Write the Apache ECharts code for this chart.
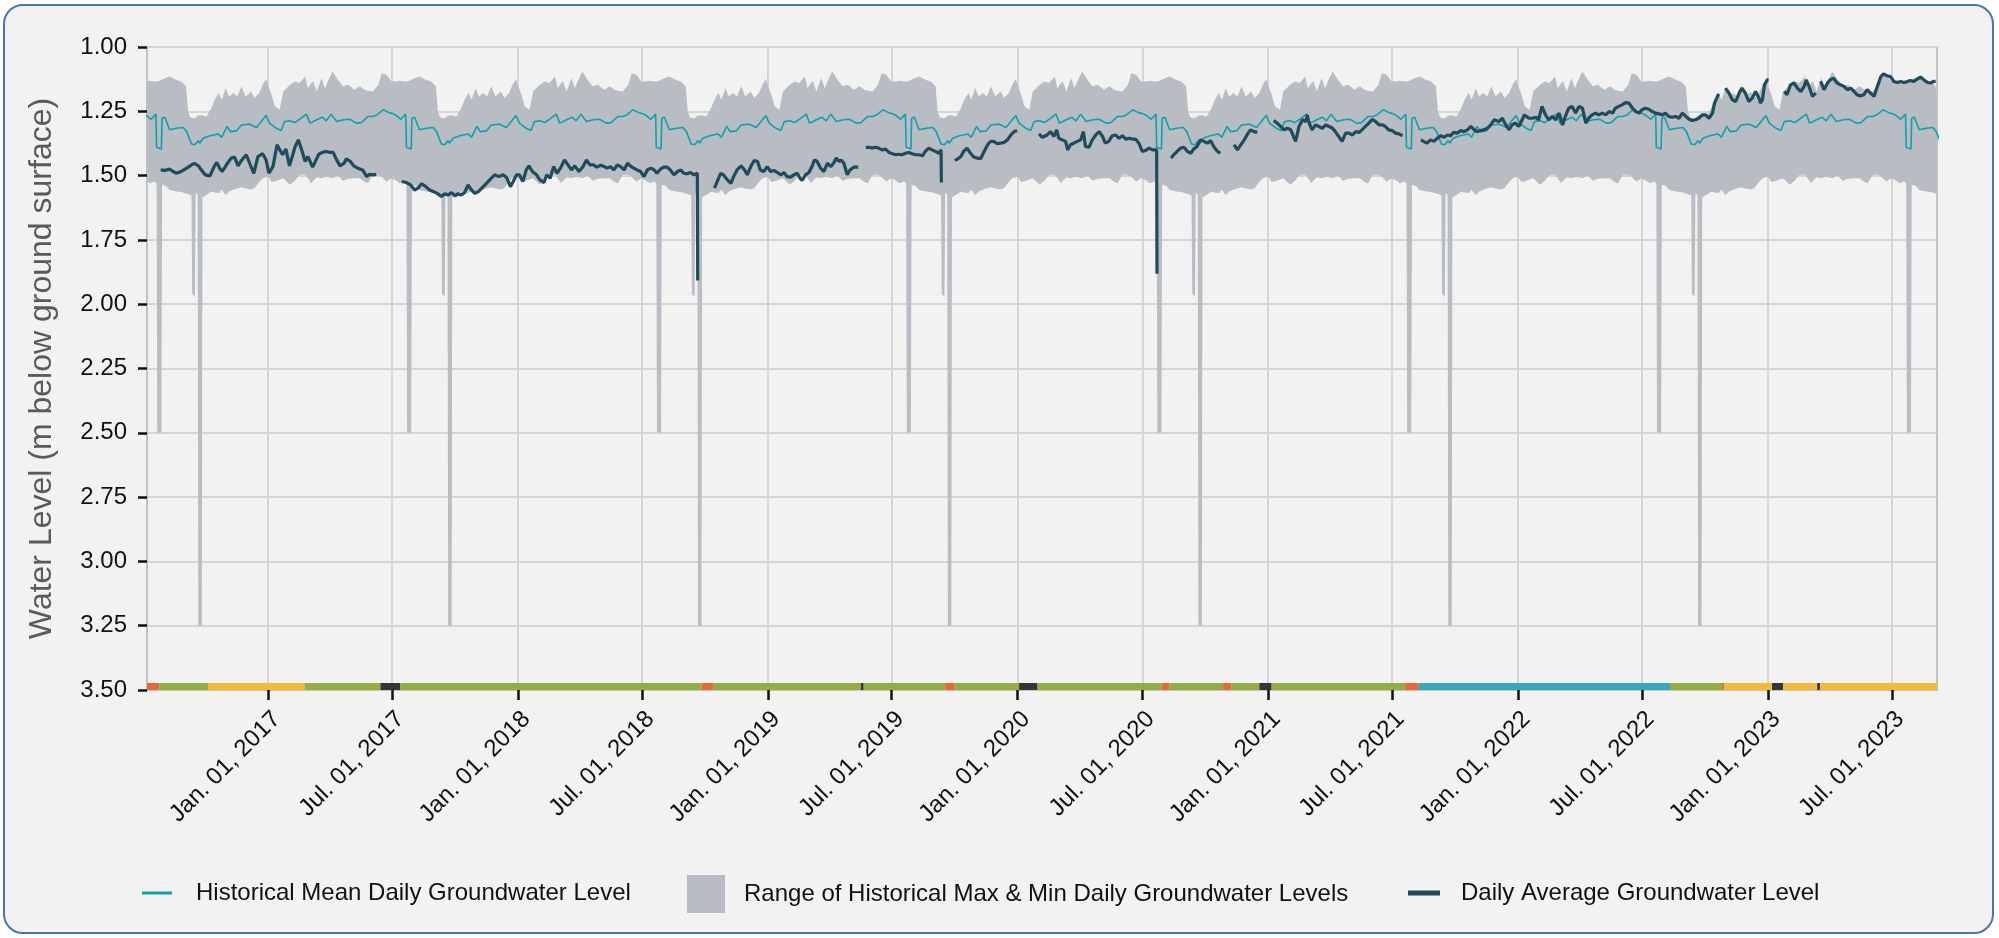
<!DOCTYPE html>
<html>
<head>
<meta charset="utf-8">
<script src="https://cdn.jsdelivr.net/npm/echarts@6/dist/echarts.min.js"></script>
<style>
html,body{margin:0;padding:0;background:#ffffff;width:1999px;height:938px;overflow:hidden;}
#frame{position:absolute;left:3px;top:4px;width:1987px;height:926px;border:2px solid #4a76a8;border-radius:20px;background:#f2f2f2;}
#c{position:absolute;left:0;top:0;width:1999px;height:938px;}
</style>
</head>
<body>
<div id="frame"></div>
<div id="c"></div>
<script>
// ---- DATA ----
// Historical (day-of-year climatology) — t = days since Jul 1 of each year
const histMean = [[0,1.258],[5,1.264],[13,1.281],[20,1.261],[21,1.390],[28,1.397],[29,1.277],[33,1.273],[40,1.322],[50,1.316],[60,1.313],[65,1.329],[72,1.377],[77,1.380],[82,1.364],[84,1.374],[89,1.355],[99,1.345],[111,1.338],[116,1.351],[124,1.309],[129,1.329],[138,1.326],[145,1.303],[157,1.300],[167,1.313],[181,1.266],[186,1.296],[196,1.316],[203,1.325],[208,1.290],[216,1.287],[223,1.294],[230,1.281],[240,1.261],[245,1.296],[255,1.283],[263,1.273],[269,1.287],[276,1.261],[284,1.290],[294,1.283],[303,1.281],[313,1.296],[320,1.294],[330,1.270],[337,1.270],[343,1.264],[352,1.244],[362,1.257]];

// [t, historical max level (top), historical min level (bottom)]
const histRange = [[0,1.134,1.512],[5,1.134,1.517],[11,1.131,1.530],[18,1.134,1.523],[21,1.134,1.530],[22,1.134,2.50],[28,1.128,2.50],[29,1.126,1.536],[35,1.120,1.540],[40,1.115,1.556],[50,1.128,1.562],[57,1.134,1.564],[64,1.153,1.570],[67,1.250,1.572],[70,1.273,1.575],[72,1.275,1.575],[73,1.276,1.960],[77,1.277,1.970],[78,1.276,1.570],[79,1.272,1.569],[81,1.268,1.575],[82,1.266,3.25],[87,1.265,3.25],[88,1.266,1.584],[94,1.270,1.575],[101,1.238,1.562],[106,1.205,1.566],[112,1.179,1.568],[116,1.205,1.555],[122,1.160,1.575],[127,1.192,1.562],[133,1.179,1.555],[139,1.192,1.549],[145,1.153,1.545],[151,1.192,1.550],[159,1.173,1.554],[164,1.198,1.549],[171,1.179,1.525],[176,1.147,1.510],[181,1.124,1.506],[184,1.150,1.504],[189,1.186,1.525],[194,1.231,1.522],[199,1.240,1.517],[201,1.244,1.515],[206,1.173,1.510],[216,1.147,1.536],[223,1.134,1.520],[230,1.140,1.497],[238,1.115,1.497],[242,1.160,1.510],[247,1.140,1.530],[250,1.134,1.520],[255,1.173,1.506],[262,1.121,1.510],[267,1.160,1.505],[272,1.128,1.506],[278,1.095,1.510],[286,1.128,1.500],[293,1.153,1.520],[301,1.147,1.512],[310,1.166,1.510],[318,1.153,1.510],[325,1.166,1.525],[330,1.170,1.530],[337,1.173,1.497],[345,1.147,1.497],[350,1.102,1.505],[357,1.108,1.523],[364,1.134,1.510]];

// Daily average groundwater level — [days since 2016-07-01, level]; null = no data
const dailyAvg = [
[27,1.478],[33,1.480],[40,1.475],[45,1.484],[50,1.491],[57,1.484],[65,1.471],[70,1.462],[76,1.452],[82,1.462],[87,1.480],[92,1.497],[99,1.501],[105,1.465],[109,1.449],[113,1.471],[117,1.484],[123,1.458],[130,1.432],[135,1.428],[140,1.462],[145,1.441],[152,1.419],[157,1.452],[163,1.491],[169,1.426],[176,1.415],[181,1.439],[185,1.491],[191,1.465],[197,1.380],[201,1.400],[205,1.419],[210,1.397],[215,1.462],[220,1.419],[223,1.390],[228,1.361],[233,1.400],[238,1.445],[242,1.426],[249,1.467],[254,1.439],[258,1.417],[263,1.410],[269,1.406],[274,1.410],[279,1.410],[284,1.439],[289,1.462],[295,1.452],[298,1.435],[304,1.445],[309,1.462],[315,1.471],[322,1.478],[328,1.504],[332,1.495],[337,1.497],[342,1.495],
[360,null],
[379,1.523],[386,1.527],[392,1.536],[398,1.556],[403,1.549],[408,1.532],[413,1.540],[420,1.556],[425,1.562],[431,1.569],[437,1.581],[442,1.571],[447,1.575],[452,1.566],[457,1.579],[461,1.571],[466,1.575],[471,1.566],[476,1.536],[481,1.556],[486,1.569],[491,1.562],[496,1.549],[503,1.530],[510,1.510],[515,1.497],[521,1.504],[527,1.497],[532,1.506],[538,1.543],[542,1.523],[547,1.497],[551,1.497],[556,1.523],[561,1.478],[565,1.462],[570,1.484],[576,1.497],[581,1.517],[587,1.527],[591,1.497],[596,1.510],[601,1.465],[606,1.491],[611,1.471],[617,1.439],[622,1.458],[627,1.478],[632,1.462],[638,1.484],[644,1.465],[649,1.439],[654,1.458],[659,1.458],[664,1.467],[670,1.460],[675,1.465],[679,1.471],[684,1.465],[689,1.478],[694,1.458],[699,1.465],[704,1.478],[709,1.452],[713,1.462],[718,1.471],[723,1.478],[728,1.484],[733,1.504],[738,1.478],[743,1.471],[748,1.478],[752,1.491],[757,1.475],[762,1.467],[767,1.467],[772,1.480],[777,1.497],[782,1.484],[787,1.478],[791,1.491],[796,1.493],[801,1.488],[806,1.497],[811,1.491],[811.5,1.908],
[820,null],
[836,1.549],[840,1.523],[845,1.491],[849,1.497],[855,1.517],[860,1.530],[864,1.504],[869,1.478],[875,1.462],[880,1.478],[884,1.497],[889,1.465],[894,1.441],[899,1.445],[903,1.478],[908,1.484],[913,1.465],[918,1.484],[923,1.480],[928,1.488],[933,1.497],[938,1.488],[942,1.504],[947,1.506],[952,1.497],[957,1.491],[961,1.510],[964,1.519],[969,1.497],[974,1.488],[979,1.462],[982,1.439],[986,1.445],[991,1.471],[996,1.484],[1001,1.452],[1006,1.465],[1010,1.452],[1014,1.432],[1018,1.445],[1021,1.439],[1025,1.452],[1030,1.497],[1034,1.478],[1040,1.467],[1046,1.467],
[1050,null],
[1057,1.390],[1062,1.390],[1067,1.393],[1071,1.390],[1076,1.393],[1081,1.400],[1086,1.397],[1091,1.410],[1096,1.415],[1101,1.419],[1105,1.417],[1110,1.419],[1115,1.413],[1120,1.410],[1125,1.415],[1130,1.419],[1135,1.419],[1140,1.423],[1144,1.406],[1149,1.393],[1154,1.400],[1159,1.406],[1164,1.413],[1167,1.400],[1167.5,1.527],
[1177,null],
[1187,1.441],[1191,1.436],[1196,1.426],[1200,1.406],[1205,1.393],[1210,1.413],[1215,1.428],[1220,1.432],[1225,1.434],[1230,1.406],[1235,1.380],[1239,1.367],[1244,1.367],[1249,1.376],[1254,1.374],[1259,1.371],[1264,1.361],[1269,1.342],[1274,1.329],[1278,1.325],
[1290,null],
[1310,1.338],[1315,1.351],[1317,1.355],[1322,1.342],[1327,1.329],[1332,1.348],[1336,1.322],[1339,1.355],[1344,1.361],[1349,1.367],[1352,1.400],[1356,1.380],[1361,1.374],[1366,1.367],[1371,1.361],[1375,1.329],[1378,1.387],[1383,1.390],[1388,1.361],[1393,1.342],[1398,1.329],[1403,1.348],[1407,1.374],[1412,1.367],[1417,1.345],[1422,1.342],[1427,1.355],[1432,1.345],[1437,1.358],[1442,1.355],[1446,1.358],[1451,1.358],[1456,1.374],[1461,1.406],[1466,1.402],[1471,1.393],[1476,1.400],[1482,1.400],[1482.5,1.882],
[1490,null],
[1503,1.432],[1507,1.419],[1512,1.406],[1517,1.393],[1522,1.390],[1527,1.406],[1532,1.413],[1536,1.397],[1541,1.387],[1546,1.361],[1551,1.367],[1556,1.374],[1561,1.364],[1566,1.390],[1571,1.406],[1575,1.413],
[1585,null],
[1595,1.380],[1600,1.400],[1605,1.380],[1610,1.361],[1614,1.342],[1619,1.322],[1624,1.329],[1629,1.332],
[1640,null],
[1653,1.286],[1658,1.296],[1663,1.309],[1668,1.322],[1673,1.316],[1678,1.322],[1683,1.355],[1685,1.367],[1690,1.309],[1695,1.283],[1700,1.290],[1702,1.264],[1704,1.290],[1709,1.322],[1714,1.303],[1719,1.309],[1724,1.316],[1729,1.303],[1734,1.309],[1739,1.316],[1743,1.329],[1748,1.348],[1753,1.367],[1758,1.335],[1763,1.335],[1768,1.342],[1773,1.329],[1778,1.332],[1782,1.322],[1787,1.309],[1792,1.296],[1797,1.281],[1802,1.290],[1807,1.303],[1812,1.303],[1816,1.309],[1821,1.322],[1826,1.325],[1831,1.335],[1836,1.338],[1841,1.345],
[1855,null],
[1868,1.361],[1872,1.367],[1877,1.374],[1882,1.361],[1887,1.367],[1892,1.355],[1897,1.345],[1902,1.351],[1907,1.342],[1911,1.345],[1916,1.332],[1921,1.335],[1926,1.325],[1931,1.329],[1936,1.322],[1941,1.309],[1946,1.322],[1950,1.329],[1955,1.325],[1960,1.322],[1965,1.316],[1970,1.303],[1975,1.283],[1982,1.290],[1987,1.277],[1992,1.303],[1997,1.322],[2001,1.303],[2006,1.296],[2011,1.309],[2016,1.283],[2019,1.264],[2022,1.270],[2026,1.277],[2031,1.277],[2036,1.273],[2040,1.283],[2045,1.231],[2050,1.264],[2055,1.283],[2060,1.270],[2065,1.283],[2070,1.257],[2075,1.303],[2079,1.270],[2084,1.238],[2089,1.231],[2094,1.257],[2099,1.231],[2104,1.238],[2109,1.296],[2113,1.277],[2118,1.264],[2123,1.257],[2128,1.264],[2133,1.257],[2138,1.264],[2143,1.251],[2148,1.257],[2152,1.238],[2157,1.231],[2162,1.225],[2167,1.216],[2172,1.218],[2177,1.238],[2182,1.251],[2187,1.257],[2191,1.244],[2196,1.238],[2201,1.242],[2206,1.251],[2211,1.257],[2216,1.260],[2221,1.264],[2225,1.257],[2230,1.270],[2235,1.273],[2240,1.270],[2245,1.277],[2250,1.257],[2255,1.270],[2260,1.281],[2264,1.286],[2269,1.283],[2274,1.277],[2279,1.264],[2284,1.264],[2289,1.277],[2294,1.257],[2297,1.218],[2303,1.182],
[2308,null],
[2313,1.160],[2318,1.179],[2323,1.205],[2328,1.212],[2333,1.179],[2337,1.160],[2342,1.179],[2347,1.212],[2352,1.199],[2357,1.173],[2362,1.199],[2364,1.218],[2367,1.205],[2370,1.147],[2374,1.128],[2376,1.128],
[2390,null],
[2399,1.173],[2403,1.186],[2408,1.147],[2413,1.140],[2418,1.160],[2423,1.173],[2428,1.153],[2431,1.128],[2436,1.160],[2440,1.192],[2445,1.179],
[2448,null],
[2452,1.134],[2457,1.166],[2462,1.140],[2466,1.128],[2471,1.121],[2476,1.140],[2481,1.147],[2486,1.153],[2491,1.166],[2496,1.160],[2501,1.173],[2505,1.186],[2510,1.190],[2515,1.186],[2520,1.166],[2525,1.179],[2530,1.192],[2535,1.153],[2540,1.115],[2544,1.104],[2549,1.112],[2554,1.115],[2559,1.134],[2564,1.138],[2569,1.134],[2574,1.138],[2579,1.134],[2583,1.130],[2588,1.134],[2593,1.125],[2598,1.117],[2603,1.128],[2608,1.138],[2613,1.140],[2617,1.134],[2620,1.134]
];

// Data-grade strip along the bottom
const gradeStart = ['2016-07-08','2016-07-26','2016-10-06','2017-02-23','2017-06-14','2017-07-13','2018-09-26','2018-10-13','2019-05-17','2019-05-21','2019-09-17','2019-09-30','2020-01-03','2020-01-30','2020-07-29','2020-08-10','2020-10-27','2020-11-08','2020-12-19','2021-01-06','2021-07-20','2021-08-09','2022-08-11','2022-10-26','2022-10-29','2023-01-07','2023-01-23','2023-03-14','2023-03-18'];
const gradeCode  = ['O','G','Y','G','D','G','O','G','D','G','O','G','D','G','O','G','O','G','D','G','O','T','G','O','Y','D','Y','D','Y'];
const gradeEnd = '2023-09-05';
const gradeColors = {O:'#e6693c', G:'#93ae3e', Y:'#f3b93a', D:'#353535', T:'#36a8ba'};

const xTickDates = ['2017-01-01','2017-07-01','2018-01-01','2018-07-01','2019-01-01','2019-07-01','2020-01-01','2020-07-01','2021-01-01','2021-07-01','2022-01-01','2022-07-01','2023-01-01','2023-07-01'];
const xTickLabels = ['Jan. 01, 2017','Jul. 01, 2017','Jan. 01, 2018','Jul. 01, 2018','Jan. 01, 2019','Jul. 01, 2019','Jan. 01, 2020','Jul. 01, 2020','Jan. 01, 2021','Jul. 01, 2021','Jan. 01, 2022','Jul. 01, 2022','Jan. 01, 2023','Jul. 01, 2023'];

const NAME_MEAN = 'Historical Mean Daily Groundwater Level';
const NAME_RANGE = 'Range of Historical Max & Min Daily Groundwater Levels';
const NAME_AVG = 'Daily Average Groundwater Level';

// ---- BUILD ----
const DAY = 86400000;
const ts = s => { const p = s.split('-').map(Number); return Date.UTC(p[0], p[1]-1, p[2]); };
const BASE = Date.UTC(2016, 6, 1);
const X_MIN = ts('2016-07-08'), X_MAX = ts('2023-09-05');
const tickTs = xTickDates.map(ts);

const meanData = [], bandTop = [], bandBottom = [];
for (let y = 2016; y <= 2023; y++) {
  const y0 = Date.UTC(y, 6, 1);
  histMean.forEach(p => meanData.push([y0 + p[0]*DAY, p[1]]));
  histRange.forEach(p => {
    bandTop.push([y0 + p[0]*DAY, p[1]]);
    bandBottom.push([y0 + p[0]*DAY, p[2]]);
  });
}
const avgData = dailyAvg.map(p => [BASE + p[0]*DAY, p[1] === null ? '-' : p[1]]);
const gradeData = gradeStart.map((s, i) => ({
  value: [ts(s), i + 1 < gradeStart.length ? ts(gradeStart[i+1]) : ts(gradeEnd)],
  code: gradeCode[i]
}));

const BAND = '#b8bcc3';
const FONT = 'Liberation Sans, Arial, Helvetica, sans-serif';
const chart = echarts.init(document.getElementById('c'), null, {renderer: 'canvas'});
chart.setOption({
  animation: false,
  backgroundColor: 'transparent',
  textStyle: {fontFamily: FONT},
  grid: {left: 147, top: 47, width: 1790, height: 643, show: true, borderColor: '#c4c4c4', borderWidth: 2, backgroundColor: 'transparent'},
  xAxis: {
    type: 'value', min: X_MIN, max: X_MAX, scale: true,
    axisLine: {show: true, onZero: false, lineStyle: {color: '#c4c4c4', width: 2}},
    axisTick: {show: true, customValues: tickTs, length: 10, lineStyle: {color: '#111', width: 2.5}},
    axisLabel: {customValues: tickTs, rotate: 45, fontSize: 24, color: '#111', margin: 17, fontFamily: FONT,
      verticalAlign: 'top', showMinLabel: true, showMaxLabel: true, hideOverlap: false,
      formatter: v => { const i = tickTs.indexOf(v); return i >= 0 ? xTickLabels[i] : ''; }},
    splitLine: {show: true, lineStyle: {color: '#d5d5d5', width: 2}}
  },
  yAxis: {
    type: 'value', inverse: true, min: 1, max: 3.5, interval: 0.25,
    name: 'Water Level (m below ground surface)', nameLocation: 'middle', nameGap: 89,
    nameTextStyle: {fontSize: 32, color: '#5a5a5a', fontFamily: FONT},
    axisLine: {show: true, lineStyle: {color: '#c4c4c4', width: 2}},
    axisTick: {show: true, length: 9, lineStyle: {color: '#111', width: 2.5}},
    axisLabel: {fontSize: 24, color: '#111', margin: 20, fontFamily: FONT, formatter: v => v.toFixed(2)},
    splitLine: {show: true, lineStyle: {color: '#d5d5d5', width: 2}}
  },
  legend: [
    {data: [NAME_MEAN], left: 137, top: 876, icon: 'rect', itemWidth: 30, itemHeight: 3,
     itemStyle: {borderWidth: 0}, textStyle: {fontSize: 24, color: '#111', fontFamily: FONT, padding: [0,0,0,19]}},
    {data: [NAME_RANGE], left: 682, top: 870, icon: 'rect', itemWidth: 38, itemHeight: 38,
     itemStyle: {borderWidth: 0}, textStyle: {fontSize: 24, color: '#111', fontFamily: FONT, padding: [0,0,0,14]}},
    {data: [NAME_AVG], left: 1403, top: 876, icon: 'rect', itemWidth: 32, itemHeight: 5,
     itemStyle: {borderWidth: 0}, textStyle: {fontSize: 24, color: '#111', fontFamily: FONT, padding: [0,0,0,16]}}
  ],
  series: [
    {name: NAME_RANGE, type: 'custom', silent: true, z: 1, clip: true,
     itemStyle: {color: BAND},
     data: [[X_MIN, X_MAX]], encode: {x: [0, 1]},
     renderItem: (params, api) => {
       const pts = bandTop.map(p => api.coord(p));
       for (let i = bandBottom.length - 1; i >= 0; i--) pts.push(api.coord(bandBottom[i]));
       return {type: 'polygon', shape: {points: pts}, style: {fill: BAND}};
     }},
    {name: NAME_MEAN, type: 'line', data: meanData, symbol: 'none', silent: true,
     lineStyle: {color: '#139fac', width: 1.6}, itemStyle: {color: '#139fac'}, z: 3},
    {name: NAME_AVG, type: 'line', data: avgData, symbol: 'none', silent: true, connectNulls: false,
     lineStyle: {color: '#1f4b5b', width: 3.2}, itemStyle: {color: '#1f4b5b'}, z: 4},
    {name: 'grade', type: 'custom', silent: true, z: 5, clip: true,
     data: gradeData.map(g => g.value),
     encode: {x: [0, 1]},
     renderItem: (params, api) => {
       const s = api.coord([api.value(0), 3.5]);
       const e = api.coord([api.value(1), 3.5]);
       const code = gradeData[params.dataIndex].code;
       return {type: 'rect', shape: {x: s[0], y: s[1] - 7, width: e[0] - s[0], height: 7},
               style: {fill: gradeColors[code]}};
     }}
  ]
});
</script>
</body>
</html>
